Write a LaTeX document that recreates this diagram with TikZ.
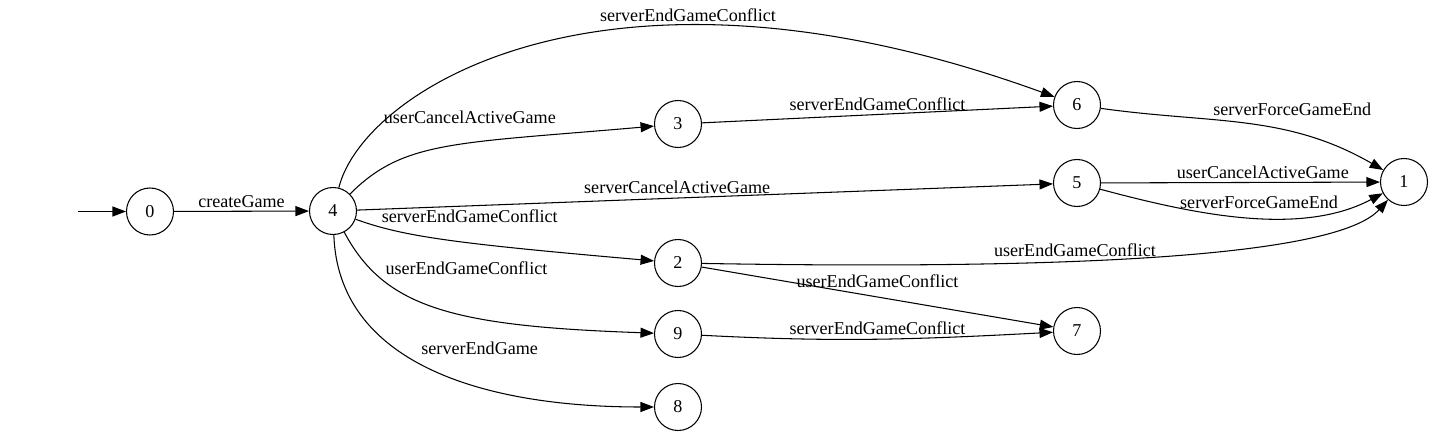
\documentclass[tikz,border=0pt]{standalone}
\usepackage{fontspec}
\setmainfont{Liberation Serif}
\usetikzlibrary{arrows.meta}

\begin{document}
\begin{tikzpicture}[auto,>={Triangle[length=0.27cm,width=0.2cm]},line width=0.6pt]

%
% Styles
%
\tikzstyle{state} = [circle,draw,minimum size=0.94cm,inner sep=0pt,font=\fontsize{10.3}{12}\selectfont]
\tikzstyle{every node} = [font=\fontsize{10.3}{12}\selectfont,inner sep=2pt]

\useasboundingbox (0,0) rectangle (28.66,-8.72);

\coordinate (start) at (1.56,-4.23);
\node[state] (s0) at ( 3.00,-4.23) {0};
\node[state] (s4) at ( 6.66,-4.22) {4};
\node[state] (s3) at (13.56,-2.48) {3};
\node[state] (s2) at (13.56,-5.26) {2};
\node[state] (s9) at (13.56,-6.68) {9};
\node[state] (s8) at (13.56,-8.14) {8};
\node[state] (s6) at (21.54,-2.10) {6};
\node[state] (s5) at (21.54,-3.66) {5};
\node[state] (s7) at (21.54,-6.62) {7};
\node[state] (s1) at (28.08,-3.64) {1};

\draw[->] (start) -- (s0);
\draw[->] (s0) -- node {createGame} (s4);
\draw[->] (s4) .. controls +(76:2.5) and +(160:10) .. node[pos=0.68] {serverEndGameConflict} (s6);
\draw[->] (s4) .. controls +(45:2) and +(185:4.5) .. node[pos=0.58,anchor=south,yshift=0.3cm] {userCancelActiveGame} (s3);
\draw[->] (s3) -- node {serverEndGameConflict} (s6);
\draw[->] (s6) to[out=-8,in=150] node[pos=0.36] {serverForceGameEnd} (s1);
\draw[->] (s4) -- node[pos=0.46] {serverCancelActiveGame} (s5);
\draw[->] (s5) -- node[pos=0.58] {userCancelActiveGame} (s1);
\draw[->] (s5) to[out=-15,in=208,looseness=0.85] node[pos=0.55,anchor=south,yshift=0.1cm] {serverForceGameEnd} (s1);
\draw[->] (s4) .. controls +(-20:1.5) and +(175:4.5) .. node[pos=0.15,anchor=south west] {serverEndGameConflict} (s2);
\draw[->] (s2) .. controls +(-1:8) and +(228:2) .. node[pos=0.38] {userEndGameConflict} (s1);
\draw[->] (s2) -- node[pos=0.5,anchor=south,yshift=0.1cm] {userEndGameConflict} (s7);
\draw[->] (s4) .. controls +(-62:2.2) and +(178:4.5) .. node[pos=0.25,anchor=south west] {userEndGameConflict} (s9);
\draw[->] (s9) to[out=-3,in=183] node {serverEndGameConflict} (s7);
\draw[->] (s4) .. controls +(-88:3) and +(180:4) .. node[pos=0.39,anchor=west,xshift=0.45cm] {serverEndGame} (s8);

\end{tikzpicture}
\end{document}
